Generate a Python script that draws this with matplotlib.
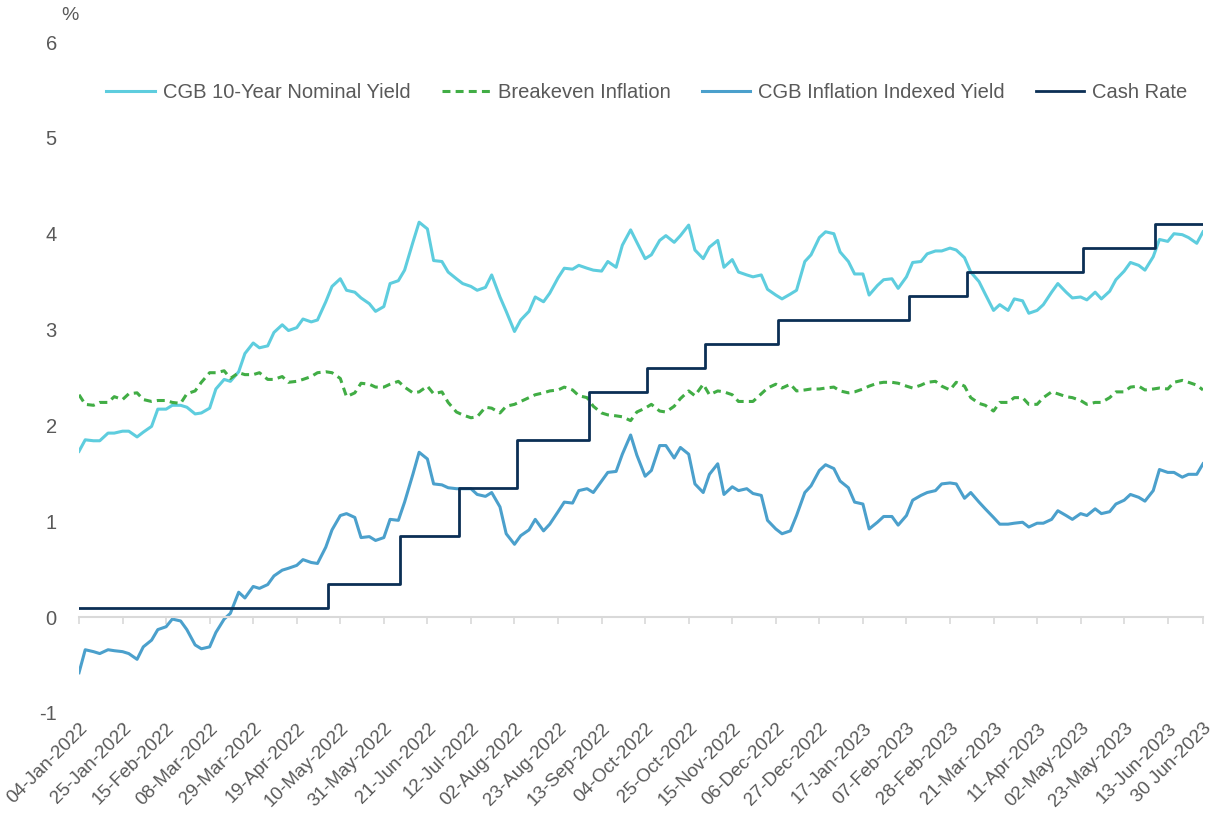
"""CGB yields, breakeven inflation and cash rate chart"""
import matplotlib
matplotlib.use('Agg')
import matplotlib.pyplot as plt
import pandas as pd

plt.rcParams['font.family'] = ['Liberation Sans', 'DejaVu Sans']
plt.rcParams['axes.unicode_minus'] = False

# twice-weekly observations: Tuesday and Friday of each week
tuesdays = pd.date_range('2022-01-04', periods=78, freq='7D')
dates = sorted(list(tuesdays) + list(tuesdays + pd.Timedelta(days=3)))

# one row = 5 weeks (Tue, Fri pairs)
nominal_yield = [
    1.73, 1.85, 1.84, 1.84, 1.92, 1.92, 1.94, 1.94, 1.88, 1.93,
    1.99, 2.17, 2.17, 2.21, 2.21, 2.19, 2.12, 2.13, 2.18, 2.38,
    2.48, 2.46, 2.56, 2.75, 2.86, 2.81, 2.83, 2.97, 3.05, 2.99,
    3.02, 3.11, 3.08, 3.10, 3.29, 3.45, 3.53, 3.41, 3.39, 3.33,
    3.27, 3.19, 3.24, 3.48, 3.51, 3.62, 3.91, 4.12, 4.05, 3.72,
    3.71, 3.60, 3.53, 3.48, 3.45, 3.41, 3.44, 3.57, 3.34, 3.19,
    2.98, 3.10, 3.19, 3.34, 3.29, 3.38, 3.54, 3.64, 3.63, 3.67,
    3.64, 3.62, 3.61, 3.71, 3.65, 3.88, 4.04, 3.91, 3.74, 3.78,
    3.93, 3.98, 3.91, 3.98, 4.09, 3.83, 3.74, 3.86, 3.93, 3.65,
    3.73, 3.60, 3.57, 3.55, 3.57, 3.42, 3.36, 3.32, 3.37, 3.41,
    3.71, 3.78, 3.96, 4.02, 4.00, 3.81, 3.71, 3.58, 3.58, 3.36,
    3.46, 3.52, 3.53, 3.43, 3.55, 3.70, 3.71, 3.79, 3.82, 3.82,
    3.85, 3.83, 3.75, 3.60, 3.50, 3.37, 3.20, 3.26, 3.20, 3.32,
    3.30, 3.17, 3.20, 3.26, 3.39, 3.48, 3.39, 3.33, 3.34, 3.31,
    3.39, 3.32, 3.40, 3.52, 3.61, 3.70, 3.67, 3.62, 3.76, 3.94,
    3.92, 4.00, 3.99, 3.96, 3.90, 4.02,
]

breakeven = [
    2.32, 2.22, 2.21, 2.24, 2.24, 2.30, 2.27, 2.33, 2.34, 2.27,
    2.25, 2.26, 2.26, 2.24, 2.23, 2.33, 2.36, 2.45, 2.55, 2.55,
    2.57, 2.49, 2.55, 2.53, 2.53, 2.55, 2.48, 2.48, 2.51, 2.45,
    2.46, 2.48, 2.51, 2.55, 2.56, 2.55, 2.49, 2.30, 2.34, 2.44,
    2.43, 2.40, 2.40, 2.43, 2.46, 2.40, 2.34, 2.35, 2.41, 2.33,
    2.35, 2.24, 2.14, 2.11, 2.08, 2.09, 2.19, 2.18, 2.13, 2.20,
    2.22, 2.25, 2.29, 2.32, 2.34, 2.36, 2.37, 2.40, 2.37, 2.31,
    2.29, 2.20, 2.13, 2.11, 2.10, 2.09, 2.05, 2.14, 2.18, 2.22,
    2.15, 2.14, 2.20, 2.28, 2.36, 2.31, 2.43, 2.32, 2.36, 2.35,
    2.32, 2.25, 2.25, 2.25, 2.33, 2.39, 2.43, 2.39, 2.43, 2.36,
    2.37, 2.38, 2.38, 2.39, 2.40, 2.36, 2.34, 2.35, 2.38, 2.41,
    2.44, 2.45, 2.45, 2.44, 2.41, 2.39, 2.42, 2.45, 2.46, 2.41,
    2.37, 2.45, 2.41, 2.29, 2.23, 2.21, 2.15, 2.24, 2.24, 2.29,
    2.29, 2.22, 2.22, 2.29, 2.35, 2.33, 2.30, 2.29, 2.26, 2.22,
    2.24, 2.24, 2.29, 2.35, 2.35, 2.40, 2.41, 2.37, 2.38, 2.39,
    2.38, 2.45, 2.47, 2.45, 2.42, 2.37,
]

indexed_yield = [
    -0.58, -0.34, -0.36, -0.38, -0.34, -0.35, -0.36, -0.38, -0.44, -0.31,
    -0.24, -0.13, -0.10, -0.02, -0.04, -0.13, -0.29, -0.33, -0.31, -0.16,
    -0.02, 0.04, 0.26, 0.20, 0.32, 0.30, 0.34, 0.43, 0.49, 0.51,
    0.54, 0.60, 0.57, 0.56, 0.73, 0.91, 1.06, 1.08, 1.04, 0.83,
    0.84, 0.80, 0.83, 1.02, 1.01, 1.20, 1.49, 1.72, 1.65, 1.39,
    1.38, 1.35, 1.34, 1.34, 1.34, 1.28, 1.26, 1.30, 1.15, 0.87,
    0.76, 0.85, 0.91, 1.02, 0.90, 0.97, 1.10, 1.20, 1.19, 1.32,
    1.34, 1.30, 1.42, 1.51, 1.52, 1.70, 1.90, 1.69, 1.47, 1.53,
    1.79, 1.79, 1.66, 1.77, 1.70, 1.39, 1.30, 1.49, 1.60, 1.28,
    1.36, 1.32, 1.34, 1.29, 1.27, 1.01, 0.92, 0.87, 0.90, 1.06,
    1.30, 1.37, 1.53, 1.59, 1.55, 1.42, 1.35, 1.20, 1.18, 0.92,
    0.99, 1.05, 1.05, 0.96, 1.06, 1.22, 1.27, 1.30, 1.32, 1.39,
    1.40, 1.39, 1.24, 1.30, 1.20, 1.13, 1.04, 0.97, 0.97, 0.98,
    0.99, 0.94, 0.98, 0.98, 1.02, 1.11, 1.06, 1.02, 1.08, 1.06,
    1.13, 1.08, 1.10, 1.18, 1.22, 1.28, 1.25, 1.21, 1.32, 1.54,
    1.51, 1.51, 1.46, 1.49, 1.49, 1.60,
]

# RBA cash rate target changes
cash_dates = pd.to_datetime([
    '2022-01-04', '2022-05-04', '2022-06-08', '2022-07-06', '2022-08-03',
    '2022-09-07', '2022-10-05', '2022-11-02', '2022-12-07', '2023-02-08',
    '2023-03-08', '2023-05-03', '2023-06-07', '2023-06-30',
])
cash_rate = [0.10, 0.35, 0.85, 1.35, 1.85, 2.35, 2.60, 2.85, 3.10, 3.35,
             3.60, 3.85, 4.10, 4.10]

tick_dates = list(pd.date_range('2022-01-04', '2023-06-13', freq='21D')) + [pd.Timestamp('2023-06-30')]
tick_labels = [d.strftime('%d-%b-%Y') for d in tick_dates[:-1]] + ['30 Jun-2023']

fig = plt.figure(figsize=(12.25, 8.19), dpi=100)
ax = fig.add_axes([79 / 1225, 1 - 713 / 819, (1203 - 79) / 1225, (713 - 42) / 819])

ax.plot(dates, nominal_yield, color='#5ECDDE', lw=2.2, label='CGB 10-Year Nominal Yield')
ax.plot(dates, breakeven, color='#41AD45', lw=2.2, dashes=(2.6, 1.7), label='Breakeven Inflation')
ax.plot(dates, indexed_yield, color='#4BA0CC', lw=2.2, label='CGB Inflation Indexed Yield')
ax.plot(cash_dates, cash_rate, color='#0B2F55', lw=2.0, drawstyle='steps-post', label='Cash Rate')

ax.set_xlim(pd.Timestamp('2022-01-04'), pd.Timestamp('2023-06-30'))
ax.set_ylim(-1, 6)
ax.set_yticks(range(-1, 7))
ax.tick_params(axis='y', length=0, pad=16, labelsize=14.5, labelcolor='#595959')

for side in ['top', 'right', 'left']:
    ax.spines[side].set_visible(False)
ax.spines['bottom'].set_position(('data', 0))
ax.spines['bottom'].set_color('#D9D9D9')
ax.spines['bottom'].set_linewidth(1.5)
ax.set_xticks(tick_dates)
ax.tick_params(axis='x', direction='out', length=5, width=1.2, color='#D9D9D9', labelbottom=False)

# date labels sit below the plot, not on the zero line
sec = ax.secondary_xaxis(0)
sec.set_xticks(tick_dates)
sec.set_xticklabels(tick_labels, rotation=45, ha='right', rotation_mode='anchor')
sec.tick_params(length=0, pad=5, labelsize=13.5, labelcolor='#595959')
sec.spines['bottom'].set_visible(False)

fig.text(70 / 1225, 1 - 15 / 819, '%', fontsize=14, color='#595959', ha='center', va='center')

fig.legend(loc='center', bbox_to_anchor=(647 / 1225, 1 - 93 / 819), ncol=4, frameon=False,
           fontsize=14.5, handlelength=2.4, handletextpad=0.4, columnspacing=1.55,
           labelcolor='#595959')

plt.savefig('out.png', dpi=100, facecolor='white')
plt.close()
